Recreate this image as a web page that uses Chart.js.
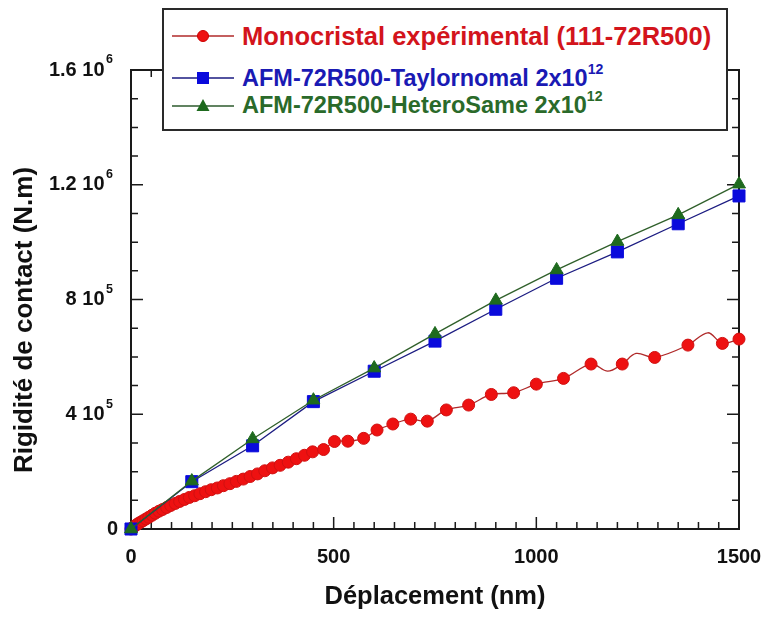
<!DOCTYPE html>
<html><head><meta charset="utf-8">
<script src="https://cdn.jsdelivr.net/npm/chart.js@4"></script>
<style>
html,body{margin:0;padding:0;background:#fff;}
#wrap{position:relative;width:768px;height:617px;overflow:hidden;}
#c{position:absolute;left:0;top:0;}
#legend{position:absolute;left:162px;top:8px;width:562px;height:119px;border:2px solid #2a2a2a;background:#fff;font-family:"Liberation Sans",Arial,Helvetica,sans-serif;font-weight:bold;}
.row{position:absolute;left:0;height:30px;display:flex;align-items:center;white-space:nowrap;}
.row svg{margin-left:8px;margin-right:8px;}
.row sup{font-size:0.6em;position:relative;top:-0.25em;vertical-align:top;}
</style></head>
<body>
<div id="wrap">
<canvas id="c" width="768" height="617"></canvas>
<div id="legend">
 <div class="row" style="top:11px;font-size:25.5px;color:#d3141c;">
  <svg width="62" height="20"><line x1="0" y1="10" x2="62" y2="10" stroke="#b02a2a" stroke-width="1.3"/><circle cx="31" cy="10" r="5.5" fill="#ee1111" stroke="#c00" /></svg>
  <span>Monocristal expérimental (111-72R500)</span></div>
 <div class="row" style="top:53px;font-size:23.5px;color:#1a1ab4;">
  <svg width="62" height="20"><line x1="0" y1="10" x2="62" y2="10" stroke="#1a1a80" stroke-width="1.3"/><rect x="25" y="4" width="12" height="12" fill="#0a0adc"/></svg>
  <span>AFM-72R500-Taylornomal 2x10<sup>12</sup></span></div>
 <div class="row" style="top:80px;font-size:23.5px;color:#2a6a2a;">
  <svg width="62" height="20"><line x1="0" y1="11" x2="62" y2="11" stroke="#2d5a2d" stroke-width="1.3"/><polygon points="31,4 37.5,16 24.5,16" fill="#1e6a1e"/></svg>
  <span>AFM-72R500-HeteroSame 2x10<sup>12</sup></span></div>
</div>
</div>
<script>
// ---- data (displacement in nm, stiffness in N/m) ----
const redDisp = [0,4,8,13,18,24,30,37,44,52,60,69,78,88,98,109,120,132,144,157,170,184,198,213,228,244,260,277,294,312,330,349,368,388,408,428,448,475,502,535,574,607,646,690,731,778,833,889,944,1000,1067,1135,1212,1292,1374,1459,1500];
const redStiff = [0,5000,9000,14000,19000,24000,29000,35000,41000,48000,55000,62000,68000,75000,82000,89000,96000,103000,110000,116000,123000,130000,137000,143000,151000,158000,166000,174000,183000,192000,203000,213000,222000,233000,245000,257000,269000,277000,305000,306000,316000,345000,366000,383000,376000,415000,432000,469000,475000,505000,525000,575000,575000,598000,641000,647000,662000];
// intermediate points of the smoothed experimental curve (no marker)
const redCurveDisp = [1176,1246,1423];
const redCurveStiff = [550000,612000,684000];

const afmDisp = [0,150,300,450,600,750,900,1050,1200,1350,1500];
const taylorStiff = [0,165000,290000,444000,550000,655000,766000,874000,966000,1064000,1161000];
const heteroStiff = [0,167000,314000,449000,561000,680000,797000,903000,1002000,1095000,1202000];

const xTickValues = [0,500,1000,1500];
const xTickLabels = ['0','500','1000','1500'];
const yTickValues = [0,400000,800000,1200000,1600000];
const yTickMantissa = ['0','4','8','1.2','1.6'];
const yTickExponent = ['','5','5','6','6'];

const xTitle = 'Déplacement (nm)';
const yTitle = 'Rigidité de contact (N.m)';

// ---- build datasets ----
const redPoints = redDisp.map((x,i)=>({x:x,y:redStiff[i],m:true}))
  .concat(redCurveDisp.map((x,i)=>({x:x,y:redCurveStiff[i],m:false})))
  .sort((a,b)=>a.x-b.x);

const FONT = '"Liberation Sans", Arial, Helvetica, sans-serif';

const framePlugin = {
  id:'frame',
  beforeDatasetsDraw(chart){
    const {ctx, chartArea:a, scales:{x,y}} = chart;
    ctx.save();
    ctx.strokeStyle = '#1a1a1a';
    ctx.lineWidth = 1.5;
    for (let v=0; v<=1500; v+=50){
      const px = x.getPixelForValue(v);
      const len = (v%500===0)?12:7;
      ctx.beginPath();
      ctx.moveTo(px,a.bottom); ctx.lineTo(px,a.bottom-len);
      ctx.moveTo(px,a.top); ctx.lineTo(px,a.top+len);
      ctx.stroke();
    }
    for (let v=0; v<=1600000; v+=100000){
      const py = y.getPixelForValue(v);
      const len = (v%400000===0)?12:7;
      ctx.beginPath();
      ctx.moveTo(a.left,py); ctx.lineTo(a.left+len,py);
      ctx.moveTo(a.right,py); ctx.lineTo(a.right-len,py);
      ctx.stroke();
    }
    ctx.lineWidth = 2;
    ctx.strokeRect(a.left,a.top,a.right-a.left,a.bottom-a.top);
    ctx.restore();
  },
  afterDraw(chart){
    const {ctx, chartArea:a, scales:{x,y}} = chart;
    ctx.save();
    ctx.fillStyle = '#111';
    ctx.textBaseline = 'middle';
    ctx.font = 'bold 20px '+FONT;
    ctx.textAlign = 'center';
    xTickValues.forEach((v,i)=>{
      ctx.fillText(xTickLabels[i], x.getPixelForValue(v), a.bottom+28);
    });
    yTickValues.forEach((v,i)=>{
      const py = y.getPixelForValue(v);
      ctx.font = 'bold 12.5px '+FONT;
      const ew = yTickExponent[i] ? ctx.measureText(yTickExponent[i]).width + 1.5 : 0;
      const right = yTickExponent[i] ? a.left - 18 : a.left - 13;
      ctx.textAlign = 'right';
      if (yTickExponent[i]) ctx.fillText(yTickExponent[i], right, py-10);
      ctx.font = 'bold 20px '+FONT;
      const base = yTickExponent[i] ? yTickMantissa[i]+' 10' : yTickMantissa[i];
      ctx.fillText(base, right-ew, py);
    });
    ctx.font = 'bold 25.5px '+FONT;
    ctx.textAlign = 'center';
    ctx.fillText(xTitle, (a.left+a.right)/2, a.bottom+68);
    ctx.font = 'bold 26px '+FONT;
    ctx.translate(25, 320);
    ctx.rotate(-Math.PI/2);
    ctx.fillText(yTitle, 0, 0);
    ctx.restore();
  }
};

new Chart(document.getElementById('c'), {
  type:'line',
  data:{datasets:[
    {label:'AFM-72R500-HeteroSame 2x10^12', data:afmDisp.map((x,i)=>({x:x,y:heteroStiff[i]})),
     borderColor:'#2f5f2a', borderWidth:1.3, pointStyle:'triangle', pointRadius:7.5,
     pointBackgroundColor:'#1e6a1e', pointBorderColor:'#1e6a1e', pointBorderWidth:1, tension:0, clip:false, order:0},
    {label:'AFM-72R500-Taylornomal 2x10^12', data:afmDisp.map((x,i)=>({x:x,y:taylorStiff[i]})),
     borderColor:'#1c1c82', borderWidth:1.3, pointStyle:'rect', pointRadius:8.5,
     pointBackgroundColor:'#0a0adc', pointBorderColor:'#0a0adc', pointBorderWidth:1, tension:0, clip:false, order:1},
    {label:'Monocristal expérimental (111-72R500)', data:redPoints,
     borderColor:'#b02a2a', borderWidth:1.3, pointStyle:'circle',
     pointRadius:c=>(c.raw && c.raw.m)?6:0,
     pointBackgroundColor:'#ee1111', pointBorderColor:'#d01010', pointBorderWidth:1,
     tension:0.35, clip:false, order:2}
  ]},
  options:{
    responsive:false, animation:false, devicePixelRatio:1,
    layout:{padding:{left:131, right:29, top:70, bottom:88}},
    scales:{
      x:{type:'linear', min:0, max:1500, display:false},
      y:{type:'linear', min:0, max:1600000, display:false}
    },
    plugins:{legend:{display:false}, tooltip:{enabled:false}}
  },
  plugins:[framePlugin]
});
</script>
</body></html>
